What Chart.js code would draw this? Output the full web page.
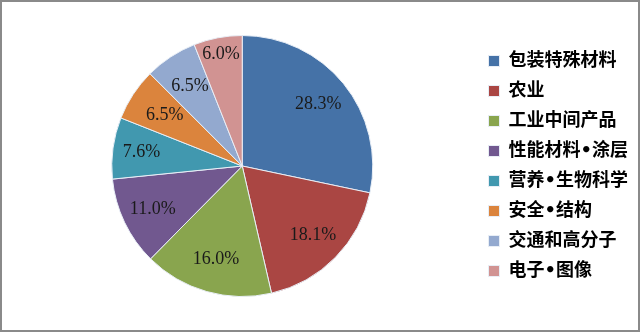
<!DOCTYPE html>
<html>
<head>
<meta charset="utf-8">
<script src="https://cdn.jsdelivr.net/npm/chart.js@4"></script>
<style>
    html, body { margin: 0; padding: 0; background: #fff; }
    #wrap {
        width: 640px; height: 332px;
        box-sizing: border-box;
        border: 2px solid #8a8a8a;
        background: #fff;
        overflow: hidden;
    }
    canvas { display: block; }
</style>
</head>
<body>
<div id="wrap"><canvas id="pieChart" width="636" height="328"></canvas></div>
<script>
// categories and shares (percent)
const categories = ["包装特殊材料", "农业", "工业中间产品", "性能材料•涂层", "营养•生物科学", "安全•结构", "交通和高分子", "电子•图像"];
const shares = [28.3, 18.1, 16.0, 11.0, 7.6, 6.5, 6.5, 6.0];
const sliceColors = ["#4572A7", "#AA4643", "#89A54E", "#71588F", "#4198AF", "#DB843D", "#93A9CF", "#D19392"];
// how far out (fraction of radius) each percent label sits
const labelRadius = [0.75, 0.76, 0.74, 0.76, 0.78, 0.71, 0.73, 0.87];

// draws the percent labels inside each slice
const sliceLabels = {
    id: "sliceLabels",
    afterDatasetsDraw(chart) {
        const ctx = chart.ctx;
        const meta = chart.getDatasetMeta(0);
        ctx.save();
        ctx.font = "18px 'Liberation Serif', 'DejaVu Serif', serif";
        ctx.fillStyle = "#1a1a1a";
        ctx.textAlign = "center";
        ctx.textBaseline = "middle";
        meta.data.forEach((arc, i) => {
            const p = arc.getProps(["x", "y", "startAngle", "endAngle", "outerRadius"], true);
            const mid = (p.startAngle + p.endAngle) / 2;
            const r = p.outerRadius * labelRadius[i];
            ctx.fillText(shares[i].toFixed(1) + "%", p.x + Math.cos(mid) * r, p.y + Math.sin(mid) * r);
        });
        ctx.restore();
    }
};

const chart = new Chart(document.getElementById("pieChart"), {
    type: "pie",
    data: {
        labels: categories,
        datasets: [{
            data: shares,
            backgroundColor: sliceColors,
            borderColor: "#e8eef6",
            borderWidth: 1
        }]
    },
    options: {
        responsive: false,
        animation: false,
        layout: { padding: { top: 33, bottom: 33, left: 6, right: 0 } },
        plugins: {
            tooltip: { enabled: false },
            legend: {
                position: "right",
                align: "center",
                labels: {
                    boxWidth: 11,
                    boxHeight: 11,
                    padding: 12,
                    color: "#000",
                    font: { family: "'DejaVu Sans', 'Noto Sans CJK SC', sans-serif", size: 18, weight: "bold" }
                }
            }
        }
    },
    plugins: [sliceLabels]
});
</script>
</body>
</html>
